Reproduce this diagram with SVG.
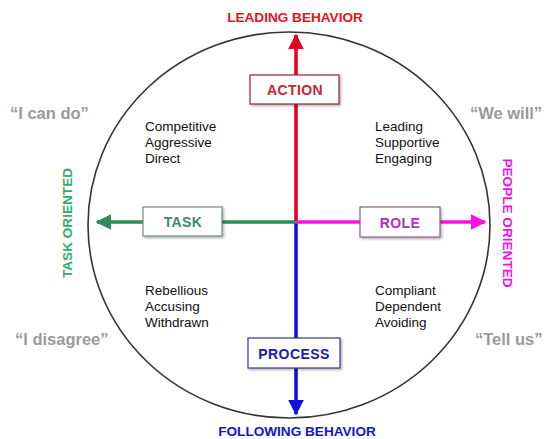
<svg xmlns="http://www.w3.org/2000/svg" width="546" height="439" viewBox="0 0 546 439">
  <defs>
    <marker id="headRed" viewBox="0 0 10 10" refX="9" refY="5" markerWidth="4.4" markerHeight="4.4" orient="auto" markerUnits="strokeWidth">
      <path d="M0,0 L10,5 L0,10 Z" fill="#e8001e"/>
    </marker>
    <marker id="headBlue" viewBox="0 0 10 10" refX="9" refY="5" markerWidth="4.4" markerHeight="4.4" orient="auto" markerUnits="strokeWidth">
      <path d="M0,0 L10,5 L0,10 Z" fill="#1010d8"/>
    </marker>
    <marker id="headGreen" viewBox="0 0 10 10" refX="9" refY="5" markerWidth="4.4" markerHeight="4.4" orient="auto" markerUnits="strokeWidth">
      <path d="M0,0 L10,5 L0,10 Z" fill="#2e8b5e"/>
    </marker>
    <marker id="headMagenta" viewBox="0 0 10 10" refX="9" refY="5" markerWidth="4.4" markerHeight="4.4" orient="auto" markerUnits="strokeWidth">
      <path d="M0,0 L10,5 L0,10 Z" fill="#ff10e0"/>
    </marker>
    <filter id="shadow" x="-10%" y="-20%" width="130%" height="150%">
      <feDropShadow dx="1.5" dy="1.5" stdDeviation="1" flood-color="#000" flood-opacity="0.3"/>
    </filter>
  </defs>
  <style>
    text { font-family: "Liberation Sans", Arial, sans-serif; }
    .trait { font-size: 13.5px; fill: #111; }
    .quote { font-size: 16.5px; font-weight: bold; fill: #9a9a9a; }
    .axis { font-size: 13.6px; font-weight: bold; }
    .box { fill: #fff; stroke-width: 1.2; filter: url(#shadow); }
    .boxlabel { font-size: 14px; font-weight: bold; text-anchor: middle; letter-spacing: 0.4px; }
  </style>

  <rect width="546" height="439" fill="#fff"/>

  <!-- outer ring -->
  <ellipse cx="289" cy="225" rx="201" ry="193" fill="none" stroke="#333" stroke-width="1.6"/>

  <!-- connectors -->
  <g id="connectors">
    <line x1="296" y1="222" x2="296" y2="35" stroke="#e8001e" stroke-width="3.6" marker-end="url(#headRed)"/>
    <line x1="296" y1="222" x2="296" y2="414" stroke="#1010d8" stroke-width="3.6" marker-end="url(#headBlue)"/>
    <line x1="296" y1="222" x2="97" y2="222" stroke="#2e8b5e" stroke-width="3.6" marker-end="url(#headGreen)"/>
    <line x1="296" y1="222" x2="485" y2="222" stroke="#ff10e0" stroke-width="3.6" marker-end="url(#headMagenta)"/>
  </g>

  <!-- axis titles -->
  <text class="axis" x="295" y="22" text-anchor="middle" fill="#ee1020">LEADING BEHAVIOR</text>
  <text class="axis" x="297" y="436" text-anchor="middle" fill="#1515d0">FOLLOWING BEHAVIOR</text>
  <text class="axis" transform="translate(72,223) rotate(-90)" text-anchor="middle" fill="#2eae6a">TASK ORIENTED</text>
  <text class="axis" transform="translate(503,223) rotate(90)" text-anchor="middle" fill="#ee10e8">PEOPLE ORIENTED</text>

  <!-- nodes -->
  <g id="action">
    <rect class="box" x="250" y="75" width="89" height="29" stroke="#8a2a34"/>
    <text class="boxlabel" x="295" y="95" fill="#d42030">ACTION</text>
  </g>
  <g id="task">
    <rect class="box" x="143" y="207" width="79" height="29" stroke="#6f8a7c"/>
    <text class="boxlabel" x="183" y="227" fill="#3c8a68">TASK</text>
  </g>
  <g id="role">
    <rect class="box" x="360" y="207" width="80" height="30" stroke="#8a5a8a"/>
    <text class="boxlabel" x="400" y="228" fill="#b030c0">ROLE</text>
  </g>
  <g id="process">
    <rect class="box" x="248" y="338" width="92" height="30" stroke="#3a3a7a"/>
    <text class="boxlabel" x="294" y="359" fill="#1a1aa8">PROCESS</text>
  </g>

  <!-- quadrant traits -->
  <text class="trait" x="145" y="131">Competitive</text>
  <text class="trait" x="145" y="147">Aggressive</text>
  <text class="trait" x="145" y="163">Direct</text>

  <text class="trait" x="375" y="131">Leading</text>
  <text class="trait" x="375" y="147">Supportive</text>
  <text class="trait" x="375" y="163">Engaging</text>

  <text class="trait" x="145" y="295">Rebellious</text>
  <text class="trait" x="145" y="311">Accusing</text>
  <text class="trait" x="145" y="327">Withdrawn</text>

  <text class="trait" x="375" y="295">Compliant</text>
  <text class="trait" x="375" y="311">Dependent</text>
  <text class="trait" x="375" y="327">Avoiding</text>

  <!-- corner voices -->
  <text class="quote" x="10" y="119">“I can do”</text>
  <text class="quote" x="470" y="119">“We will”</text>
  <text class="quote" x="15" y="345">“I disagree”</text>
  <text class="quote" x="475" y="345">“Tell us”</text>
</svg>
